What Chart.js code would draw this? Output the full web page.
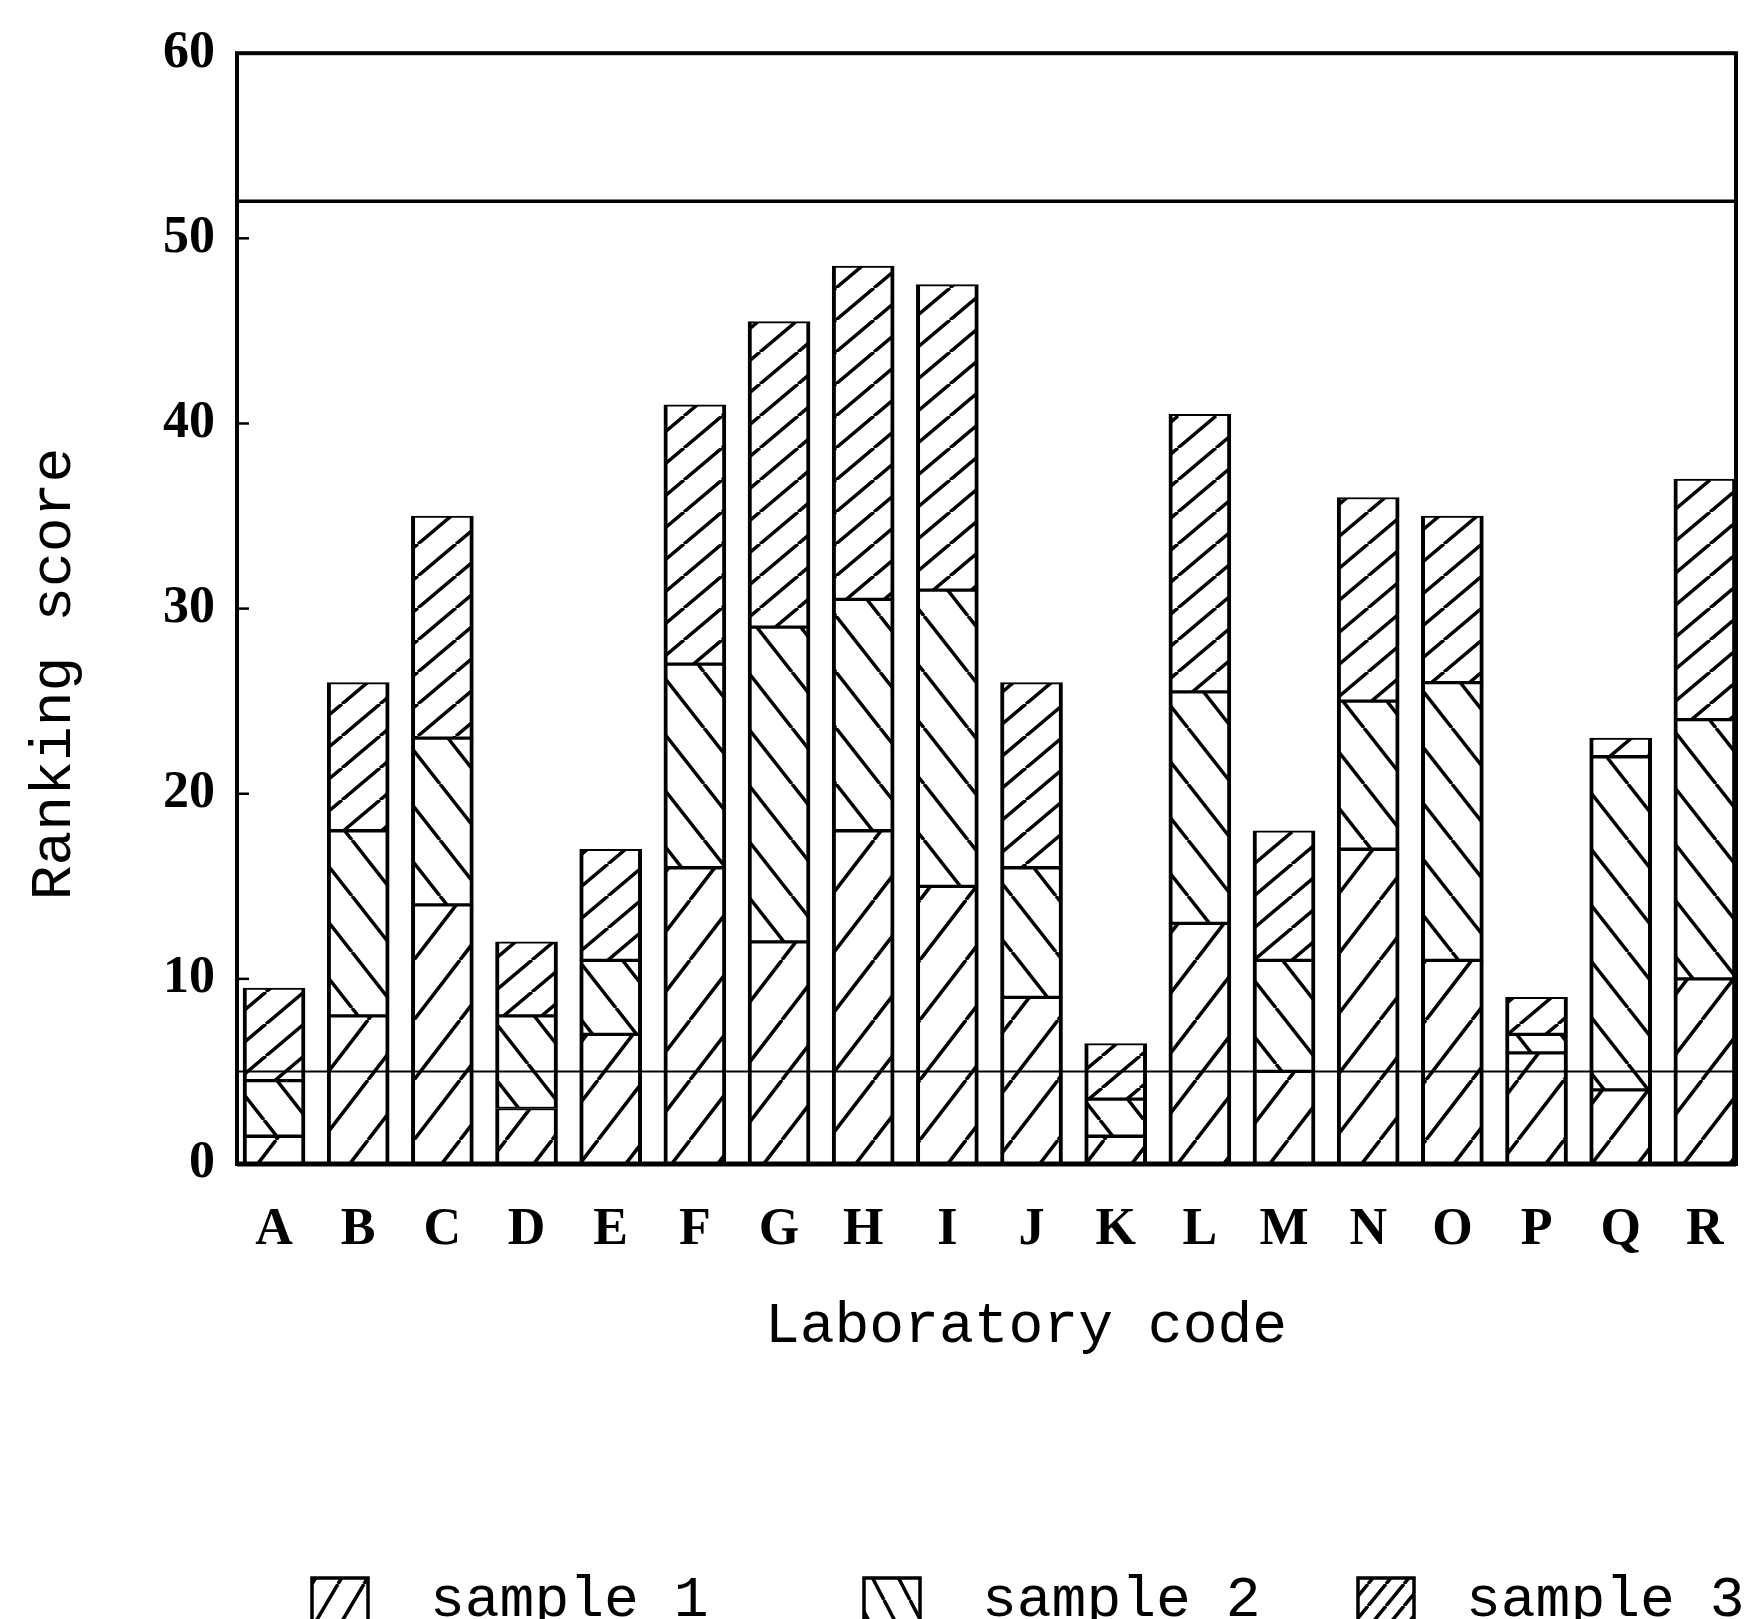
<!DOCTYPE html>
<html>
<head>
<meta charset="utf-8">
<script src="https://cdn.jsdelivr.net/npm/chart.js@4.4.1/dist/chart.umd.min.js"></script>
<style>
  html, body { margin: 0; padding: 0; background: #fff; }
  canvas { display: block; }
</style>
</head>
<body>
<canvas id="c" width="1751" height="1619"></canvas>
<script>
// laboratory codes on the x axis
const labs = ['A','B','C','D','E','F','G','H','I','J','K','L','M','N','O','P','Q','R'];
// ranking score of each lab for each sample (stacked)
const sample1 = [1.5, 8, 14, 3, 7, 16, 12, 18, 15, 9, 1.5, 13, 5, 17, 11, 6, 4, 10];
const sample2 = [3, 10, 9, 5, 4, 11, 17, 12.5, 16, 7, 2, 12.5, 6, 8, 15, 1, 18, 14];
const sample3 = [5, 8, 12, 4, 6, 14, 16.5, 18, 16.5, 10, 3, 15, 7, 11, 9, 2, 1, 13];
const seriesNames = ['sample 1', 'sample 2', 'sample 3'];
// y ticks and the two limit lines
const yTicks = [0, 10, 20, 30, 40, 50, 60];
const limits = [5, 52];

const ctx = document.getElementById('c').getContext('2d');

// diagonal hatch tile: dir 1 = "/", -1 = "\"
function hatch(w, h, dir) {
  const t = document.createElement('canvas');
  t.width = w; t.height = h;
  const g = t.getContext('2d');
  g.fillStyle = '#fff';
  g.fillRect(0, 0, w, h);
  g.strokeStyle = '#000';
  g.lineWidth = 3.5;
  g.beginPath();
  for (const dx of [-w, 0, w]) {
    if (dir > 0) { g.moveTo(dx, h); g.lineTo(dx + w, 0); }
    else { g.moveTo(dx, 0); g.lineTo(dx + w, h); }
  }
  g.stroke();
  return ctx.createPattern(t, 'repeat');
}
const fills = [hatch(46, 60, 1), hatch(44, 56, -1), hatch(38, 32, 1)];
// tighter versions for the small legend boxes
const keyFills = [hatch(26, 44, 1), hatch(26, 50, -1), hatch(18, 22, 1)];

const datasets = [sample1, sample2, sample3].map((vals, k) => ({
  label: seriesNames[k],
  data: vals.map((v, i) => ({x: i, y: v})),
  backgroundColor: fills[k],
  borderColor: '#000',
  borderWidth: {left: 4, right: 4, top: 2, bottom: 2},
  borderSkipped: false,
  barThickness: 62
}));

const monoFont = '58px "Liberation Mono", monospace';

const decor = {
  id: 'decor',
  afterDatasetsDraw(chart) {
    const {ctx, chartArea: a, scales: {y}} = chart;
    ctx.save();
    ctx.strokeStyle = '#000';
    limits.forEach((v, k) => {
      const py = y.getPixelForValue(v);
      ctx.lineWidth = k ? 3.5 : 2;
      ctx.beginPath();
      ctx.moveTo(a.left, py);
      ctx.lineTo(a.right, py);
      ctx.stroke();
    });
    ctx.lineWidth = 4;
    ctx.strokeRect(a.left, a.top, a.right - a.left, a.bottom - a.top);
    ctx.lineWidth = 5;
    ctx.beginPath();
    ctx.moveTo(a.left, a.bottom);
    ctx.lineTo(a.right, a.bottom);
    ctx.stroke();
    ctx.lineWidth = 2.5;
    yTicks.forEach(v => {
      const py = y.getPixelForValue(v);
      ctx.beginPath();
      ctx.moveTo(a.left, py);
      ctx.lineTo(a.left + 12, py);
      ctx.stroke();
    });
    ctx.restore();
  },
  afterDraw(chart) {
    const ctx = chart.ctx;
    ctx.save();
    ctx.fillStyle = '#000';
    ctx.font = monoFont;
    ctx.textAlign = 'center';
    ctx.textBaseline = 'alphabetic';
    // axis titles
    ctx.fillText('Laboratory code', 1026, 1342);
    ctx.save();
    ctx.translate(70, 674);
    ctx.rotate(-Math.PI / 2);
    ctx.fillText('Ranking score', 0, 0);
    ctx.restore();
    // legend
    const iconX = [312, 864, 1358];
    const textX = [430, 982, 1466];
    ctx.textAlign = 'left';
    chart.data.datasets.forEach((ds, k) => {
      ctx.fillStyle = keyFills[k];
      ctx.fillRect(iconX[k], 1578, 56, 60);
      ctx.strokeStyle = '#000';
      ctx.lineWidth = 3.5;
      ctx.strokeRect(iconX[k], 1578, 56, 60);
      ctx.fillStyle = '#000';
      ctx.fillText(ds.label, textX[k], 1616);
    });
    ctx.restore();
  }
};

new Chart(ctx, {
  type: 'bar',
  data: {datasets: datasets},
  plugins: [decor],
  options: {
    responsive: false,
    animation: false,
    devicePixelRatio: 1,
    layout: {padding: {top: 52, right: 15, bottom: 355, left: 0}},
    plugins: {legend: {display: false}, tooltip: {enabled: false}},
    scales: {
      x: {
        type: 'linear',
        stacked: true,
        min: -0.44,
        max: 17.37,
        offset: false,
        grid: {display: false, drawTicks: false, offset: false},
        border: {display: false},
        afterFit: s => { s.height = 100; s.paddingLeft = 0; s.paddingRight = 0; },
        ticks: {
          stepSize: 1,
          includeBounds: false,
          autoSkip: false,
          maxRotation: 0,
          padding: 35,
          color: '#000',
          font: {family: '"Liberation Serif", serif', weight: 'bold', size: 52},
          callback: v => labs[v] ?? ''
        }
      },
      y: {
        stacked: true,
        min: 0,
        max: 60,
        grid: {display: false, drawTicks: false},
        border: {display: false},
        afterFit: s => { s.width = 237; },
        afterBuildTicks: s => { s.ticks = yTicks.map(v => ({value: v})); },
        ticks: {
          padding: 22,
          color: '#000',
          font: {family: '"Liberation Serif", serif', weight: 'bold', size: 52}
        }
      }
    }
  }
});
</script>
</body>
</html>
